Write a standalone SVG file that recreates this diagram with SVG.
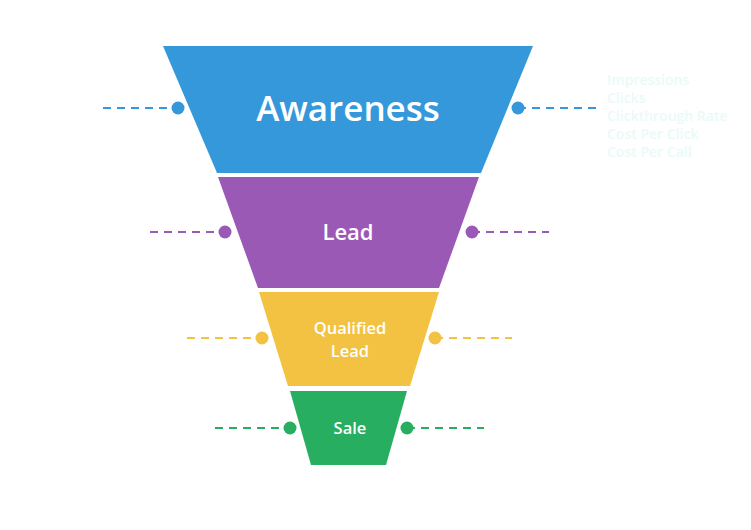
<svg xmlns="http://www.w3.org/2000/svg" width="751" height="530" viewBox="0 0 751 530">
<style>
.lbl{font-family:"Open Sans","Liberation Sans",sans-serif;font-weight:600;fill:#ffffff;text-anchor:middle}
.dash{stroke-width:2;stroke-dasharray:8 6;fill:none}
.faint{font-family:"Open Sans","Liberation Sans",sans-serif;font-weight:600;font-size:14px;fill:#eafaf9}
</style>
<rect width="751" height="530" fill="#ffffff"/>
<g id="connectors">
<line class="dash" x1="103" y1="108" x2="178" y2="108" stroke="#3498db"/>
<line class="dash" x1="518" y1="108" x2="596" y2="108" stroke="#3498db"/>
<circle cx="178" cy="108" r="6.5" fill="#3498db"/>
<circle cx="518" cy="108" r="6.5" fill="#3498db"/>
<line class="dash" x1="150" y1="232" x2="225" y2="232" stroke="#9b59b6"/>
<line class="dash" x1="472" y1="232" x2="549" y2="232" stroke="#9b59b6"/>
<circle cx="225" cy="232" r="6.5" fill="#9b59b6"/>
<circle cx="472" cy="232" r="6.5" fill="#9b59b6"/>
<line class="dash" x1="187" y1="338" x2="262" y2="338" stroke="#f3c242"/>
<line class="dash" x1="435" y1="338" x2="512" y2="338" stroke="#f3c242"/>
<circle cx="262" cy="338" r="6.5" fill="#f3c242"/>
<circle cx="435" cy="338" r="6.5" fill="#f3c242"/>
<line class="dash" x1="215" y1="428" x2="290" y2="428" stroke="#27ae60"/>
<line class="dash" x1="407" y1="428" x2="484" y2="428" stroke="#27ae60"/>
<circle cx="290" cy="428" r="6.5" fill="#27ae60"/>
<circle cx="407" cy="428" r="6.5" fill="#27ae60"/>
</g>
<g id="awareness">
<polygon points="163,46 533,46 481,173 217,173" fill="#3498db"/>
<text class="lbl" x="348" y="121" font-size="35">Awareness</text>
</g>
<g id="lead">
<polygon points="218,177 479,177 439,288 258,288" fill="#9b59b6"/>
<text class="lbl" x="348" y="240" font-size="22">Lead</text>
</g>
<g id="qualified-lead">
<polygon points="259,292 439,292 410,386 288,386" fill="#f3c242"/>
<text class="lbl" x="350" y="334" font-size="16.5">Qualified</text>
<text class="lbl" x="350" y="357" font-size="16.5">Lead</text>
</g>
<g id="sale">
<polygon points="290,391 407,391 386,465 311,465" fill="#27ae60"/>
<text class="lbl" x="350" y="434" font-size="16.5">Sale</text>
</g>
<g id="metrics">
<text class="faint" x="607" y="85">Impressions</text>
<text class="faint" x="607" y="103">Clicks</text>
<text class="faint" x="607" y="121">Clickthrough Rate</text>
<text class="faint" x="607" y="139">Cost Per Click</text>
<text class="faint" x="607" y="157">Cost Per Call</text>
</g>
</svg>
